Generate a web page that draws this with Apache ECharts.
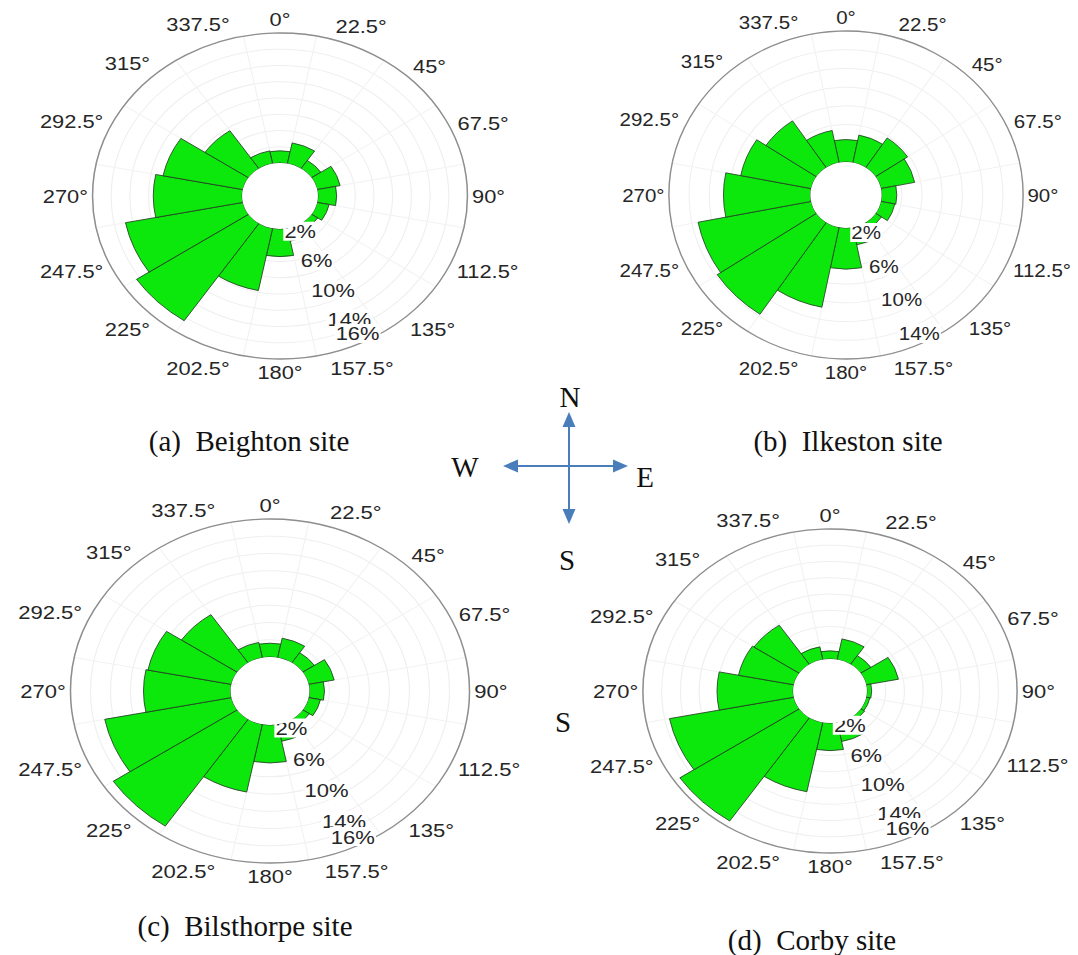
<!DOCTYPE html>
<html>
<head>
<meta charset="utf-8">
<script src="https://cdn.jsdelivr.net/npm/echarts@6/dist/echarts.min.js"></script>
<style>
  html, body { margin: 0; padding: 0; background: #fff; }
  #page { position: relative; width: 1078px; height: 955px; overflow: hidden; background: #fff; }
  .rose { position: absolute; transform-origin: 50% 50%; }
  #overlay { position: absolute; left: 0; top: 0; width: 1078px; height: 955px; pointer-events: none; }
</style>
</head>
<body>
<div id="page"></div>
<script>
// Wind direction sectors (degrees clockwise from north)
const directions = ['0°', '22.5°', '45°', '67.5°', '90°', '112.5°', '135°', '157.5°',
                    '180°', '202.5°', '225°', '247.5°', '270°', '292.5°', '315°', '337.5°'];

// Frequency of wind from each sector (%)
const beighton   = [1.5, 2.6, 1.2, 2.5, 2.0, 1.3, 0.8, 1.6, 3.4, 7.8, 14.4, 12.8, 9.5, 8.7, 5.6, 1.6];
const ilkeston   = [2.4, 3.0, 3.8, 3.4, 1.5, 1.4, 0.7, 1.9, 4.4, 8.7, 11.8, 11.4, 8.6, 7.1, 6.0, 3.5];
const bilsthorpe = [1.6, 2.3, 1.4, 2.6, 1.5, 1.2, 0.8, 2.0, 4.4, 8.0, 14.9, 12.9, 8.7, 8.5, 6.7, 1.8];
const corby      = [1.0, 2.6, 1.3, 3.5, 0.5, 0.4, 0.5, 2.4, 3.4, 8.7, 15.3, 13.5, 8.1, 6.0, 5.8, 1.6];

// Outer ring of each rose (%)
const ringMax = [16, 14, 16, 16];

// Frequency ring labels (%) and the bearing they are written along
const radialTicks = [2, 6, 10, 14];
const radialLabelBearing = 154;

// Panel captions
const captions = ['(a)  Beighton site', '(b)  Ilkeston site', '(c)  Bilsthorpe site', '(d)  Corby site'];

// Panel placement: centre, outer radius, horizontal stretch, caption centre
const panels = [
  { values: beighton,   cx: 280, cy: 196, r: 163, sx: 1.15,  cap: [249, 441] },
  { values: ilkeston,   cx: 846, cy: 195, r: 164, sx: 1.08,  cap: [848, 441] },
  { values: bilsthorpe, cx: 270, cy: 691, r: 172, sx: 1.16,  cap: [245, 926] },
  { values: corby,      cx: 830, cy: 691, r: 162, sx: 1.155, cap: [812, 940] }
];

const SANS = 'Liberation Sans, Arial, sans-serif';
const SERIF = 'Liberation Serif, Times New Roman, serif';
const LABEL_SIZE = 19;
const page = document.getElementById('page');

const measureCtx = document.createElement('canvas').getContext('2d');
measureCtx.font = LABEL_SIZE + 'px ' + SANS;

// Offset that pushes a centred label just clear of the rim
function rimOffset(text, bearing) {
  const w = measureCtx.measureText(text).width;
  const h = LABEL_SIZE;
  const t = bearing * Math.PI / 180;
  const ux = Math.sin(t), uy = -Math.cos(t);
  const d = Math.abs(ux) * w / 2 + Math.abs(uy) * h / 2;
  return [ux * d, uy * d];
}

function roseOption(values, maxPct, R, S) {
  const hole = Math.round(R * 0.2);
  const ticks = radialTicks.filter(v => v <= maxPct);
  if (ticks[ticks.length - 1] !== maxPct) ticks.push(maxPct);
  return {
    animation: false,
    polar: [
      { center: ['50%', '50%'], radius: [hole, R] },
      { center: ['50%', '50%'], radius: [hole, R] },
      { center: ['50%', '50%'], radius: [0, R + 4] }
    ],
    angleAxis: [
      {
        polarIndex: 0, type: 'category', data: directions,
        startAngle: 90 + 11.25, clockwise: true, boundaryGap: true,
        axisLine: { show: true, lineStyle: { color: '#8e8e8e', width: 1.3 } },
        axisTick: { show: false },
        axisLabel: { show: false },
        splitLine: { show: true, lineStyle: { color: '#f2f2f2', width: 1 } }
      },
      { polarIndex: 1, type: 'value', min: 0, max: 360, startAngle: 90, clockwise: true, show: false },
      { polarIndex: 2, type: 'value', min: 0, max: 360, startAngle: 90, clockwise: true, show: false }
    ],
    radiusAxis: [
      {
        polarIndex: 0, type: 'value', min: 0, max: maxPct, interval: 2,
        axisLine: { show: false }, axisTick: { show: false }, axisLabel: { show: false },
        splitLine: { show: true, lineStyle: { color: '#efefef', width: 1 } }
      },
      { polarIndex: 1, type: 'value', min: 0, max: maxPct, show: false },
      { polarIndex: 2, type: 'value', min: 0, max: 1, show: false }
    ],
    series: [
      {
        type: 'bar', coordinateSystem: 'polar', polarIndex: 0,
        data: values, barCategoryGap: '0%',
        itemStyle: { color: '#0ce80c', borderColor: '#243f24', borderWidth: 0.8 },
        z: 2
      },
      {
        // frequency ring labels
        type: 'scatter', coordinateSystem: 'polar', polarIndex: 1,
        data: ticks.map(v => [v, radialLabelBearing]),
        symbolSize: 1, itemStyle: { color: 'rgba(0,0,0,0)', opacity: 1 },
        label: {
          show: true, position: 'inside', offset: [-4, -9],
          formatter: p => p.value[0] + '%',
          color: '#262626', fontSize: LABEL_SIZE, fontFamily: SANS,
          backgroundColor: '#fff', padding: [0, 1]
        },
        z: 5
      },
      {
        // direction labels around the rim
        type: 'scatter', coordinateSystem: 'polar', polarIndex: 2,
        data: directions.map(d => {
          const b = parseFloat(d);
          return { value: [1, b], label: { offset: rimOffset(d, b) } };
        }),
        symbolSize: 1, itemStyle: { color: 'rgba(0,0,0,0)', opacity: 1 },
        label: {
          show: true, position: 'inside',
          formatter: p => directions[p.dataIndex],
          color: '#262626', fontSize: LABEL_SIZE, fontFamily: SANS
        },
        z: 5
      }
    ],
    graphic: [
      { type: 'circle', shape: { cx: S / 2, cy: S / 2, r: hole }, style: { fill: '#fff' }, z: 100 }
    ]
  };
}

panels.forEach((p, i) => {
  const S = 2 * p.r + 140;
  const el = document.createElement('div');
  el.className = 'rose';
  el.style.width = S + 'px';
  el.style.height = S + 'px';
  el.style.left = (p.cx - S / 2) + 'px';
  el.style.top = (p.cy - S / 2) + 'px';
  el.style.transform = 'scale(' + p.sx + ',1)';
  page.appendChild(el);
  const chart = echarts.init(el, null, { renderer: 'svg' });
  chart.setOption(roseOption(p.values, ringMax[i], p.r, S));
});

// Captions and compass
const ov = document.createElement('div');
ov.id = 'overlay';
page.appendChild(ov);
const overlay = echarts.init(ov, null, { renderer: 'svg' });

const arrowColor = '#4a7ebb';
const cX = 569, cY = 466;
function arrowHead(tx, ty, dx, dy) {
  const L = 15, W = 6.5;
  const bx = tx - dx * L, by = ty - dy * L;
  return {
    type: 'polygon', z: 10,
    shape: { points: [[tx, ty], [bx - dy * W, by + dx * W], [bx + dy * W, by - dx * W]] },
    style: { fill: arrowColor }
  };
}
const graphics = [];
panels.forEach((p, i) => {
  graphics.push({
    type: 'text', x: p.cap[0], y: p.cap[1],
    style: { text: captions[i], font: '29px ' + SERIF, fill: '#111', textAlign: 'center', textVerticalAlign: 'middle' }
  });
});
graphics.push(
  { type: 'line', shape: { x1: cX, y1: 420, x2: cX, y2: 516 }, style: { stroke: arrowColor, lineWidth: 2 } },
  { type: 'line', shape: { x1: 512, y1: cY, x2: 620, y2: cY }, style: { stroke: arrowColor, lineWidth: 2 } },
  arrowHead(cX, 412, 0, -1),
  arrowHead(cX, 524, 0, 1),
  arrowHead(503, cY, -1, 0),
  arrowHead(628, cY, 1, 0)
);
[['N', 570, 397], ['W', 465, 467], ['E', 645, 477], ['S', 567, 560], ['S', 563, 722]].forEach(t => {
  graphics.push({
    type: 'text', x: t[1], y: t[2],
    style: { text: t[0], font: '29px ' + SERIF, fill: '#111', textAlign: 'center', textVerticalAlign: 'middle' }
  });
});
overlay.setOption({ animation: false, graphic: graphics });
</script>
</body>
</html>
